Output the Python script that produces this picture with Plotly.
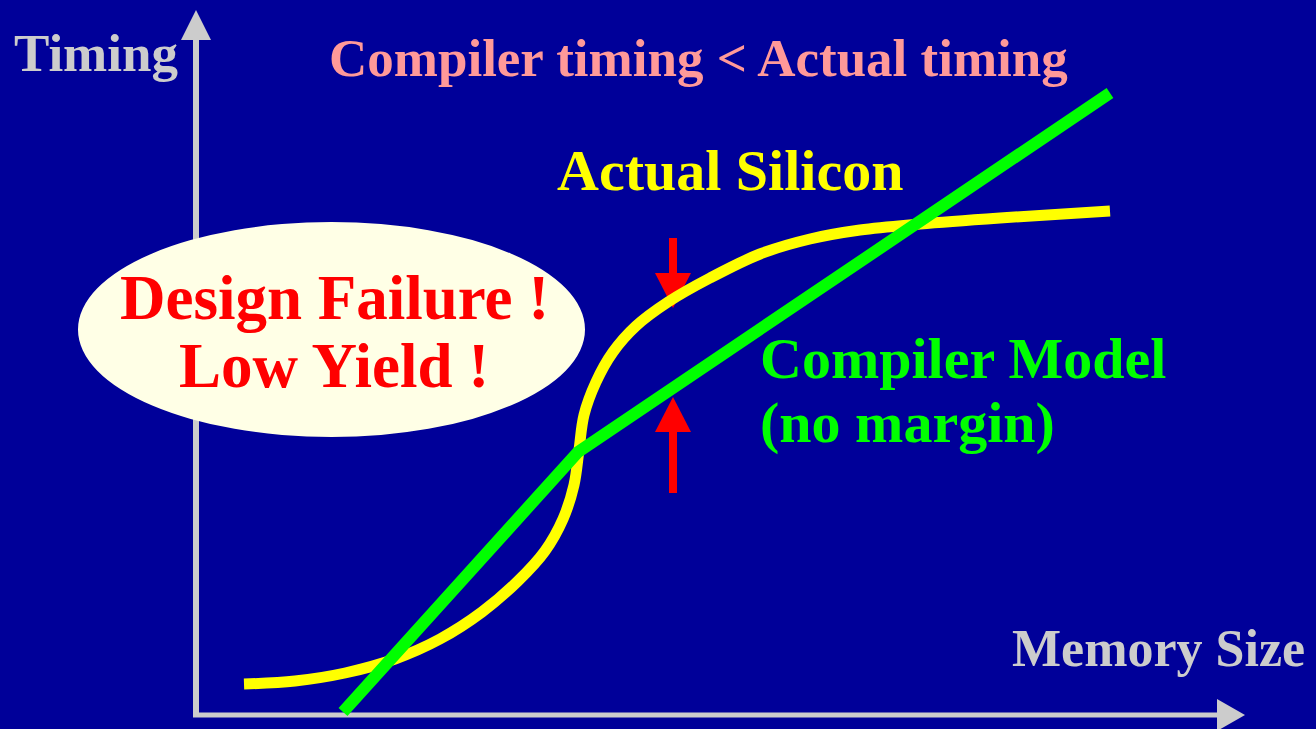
import plotly.graph_objects as go

# ---- data (pixel-like units; y grows downward) ----
silicon_x = [244, 295, 345, 395, 440, 482, 518, 545, 563, 574, 579, 584, 596, 613, 636, 668, 710, 760, 810, 860, 920, 1000, 1110]
silicon_y = [684, 681, 673, 659, 639, 612, 581, 551, 519, 485, 450, 415, 382, 352, 326, 302, 278, 254, 239, 230, 224, 218, 211]

model_x = [343, 578, 1110]
model_y = [712, 452, 93]

arrow_x = 673
arrow_down_tip = 308
arrow_up_tip = 397

BG = "#000099"
GRAY = "#CCCCCC"
FONT = "Liberation Serif"

fig = go.Figure()

fig.add_trace(go.Scatter(x=silicon_x, y=silicon_y, mode="lines",
                         line=dict(color="#FFFF00", width=11, shape="spline", smoothing=1.0),
                         hoverinfo="skip", showlegend=False))
fig.add_trace(go.Scatter(x=model_x, y=model_y, mode="lines",
                         line=dict(color="#00FF00", width=12),
                         hoverinfo="skip", showlegend=False))

shapes = []
# axes arrows
shapes.append(dict(type="line", x0=196, y0=717, x1=196, y1=38, line=dict(color=GRAY, width=6), layer="below"))
shapes.append(dict(type="path", path="M 181 40 L 211 40 L 196 10 Z", fillcolor=GRAY, line=dict(width=0), layer="below"))
shapes.append(dict(type="line", x0=193, y0=715, x1=1219, y1=715, line=dict(color=GRAY, width=5), layer="below"))
shapes.append(dict(type="path", path="M 1217 699 L 1217 731 L 1245 715 Z", fillcolor=GRAY, line=dict(width=0), layer="below"))
# ellipse
shapes.append(dict(type="circle", x0=78, x1=585, y0=222, y1=437, fillcolor="#FFFFE6", line=dict(width=0), layer="below"))
# red arrows
shapes.append(dict(type="rect", x0=arrow_x - 4, x1=arrow_x + 4, y0=238, y1=274, fillcolor="#FF0000", line=dict(width=0), layer="below"))
shapes.append(dict(type="path", path=f"M {arrow_x-18} 273 L {arrow_x+18} 273 L {arrow_x} {arrow_down_tip} Z",
                   fillcolor="#FF0000", line=dict(width=0), layer="below"))
shapes.append(dict(type="rect", x0=arrow_x - 4, x1=arrow_x + 4, y0=431, y1=493, fillcolor="#FF0000", line=dict(width=0), layer="below"))
shapes.append(dict(type="path", path=f"M {arrow_x-18} 432 L {arrow_x+18} 432 L {arrow_x} {arrow_up_tip} Z",
                   fillcolor="#FF0000", line=dict(width=0), layer="below"))

def ann(text, x, y, size, color, xanchor="left"):
    return dict(text=text, x=x, y=y, xref="x", yref="y", xanchor=xanchor, yanchor="middle",
                showarrow=False, font=dict(family=FONT, size=size, color=color, weight="bold"))

annotations = [
    ann("Timing", 12, 53, 53, GRAY),
    ann("Compiler timing &lt; Actual timing", 698, 58, 53, "#FF9999", "center"),
    ann("Actual Silicon", 555, 170, 58, "#FFFF00"),
    ann("Design Failure !", 334, 298, 63, "#FF0000", "center"),
    ann("Low Yield !", 334, 366, 63, "#FF0000", "center"),
    ann("Compiler Model", 758, 358, 58, "#00FF00"),
    ann("(no margin)", 758, 422, 58, "#00FF00"),
    ann("Memory Size", 1010, 648, 52, GRAY),
]

fig.update_layout(
    width=1316, height=729,
    margin=dict(l=0, r=0, t=0, b=0),
    paper_bgcolor=BG, plot_bgcolor=BG,
    xaxis=dict(range=[0, 1316], visible=False, fixedrange=True),
    yaxis=dict(range=[729, 0], visible=False, fixedrange=True),
    shapes=shapes, annotations=annotations,
    showlegend=False,
)

fig.write_html("out.html", config={"displayModeBar": False},
               post_script="document.body.style.margin='0';document.body.style.overflow='hidden';document.body.style.background='#000099';")
